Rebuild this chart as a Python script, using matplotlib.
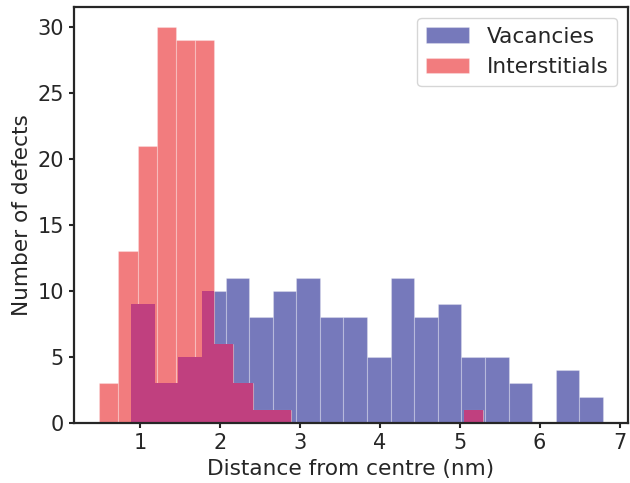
import numpy as np
import matplotlib.pyplot as plt
from matplotlib.path import Path

# histogram bin ranges and counts for each defect type
vacancy_range = (0.889, 6.79)
vacancy_counts = [9, 3, 5, 10, 11, 8, 10, 11, 8, 8, 5, 11, 8, 9, 5, 5, 3, 0, 4, 2]
interstitial_range = (0.487, 5.287)
interstitial_counts = [3, 13, 21, 30, 29, 29, 6, 3, 1, 1, 0, 0, 0, 0, 0, 0, 0, 0, 0, 1]

dark = '#262626'
plt.rcParams.update({
    'font.family': 'DejaVu Sans',
    'text.color': dark,
    'axes.labelcolor': dark,
    'axes.edgecolor': dark,
    'axes.linewidth': 1.6,
    'xtick.color': dark,
    'ytick.color': dark,
    'xtick.major.size': 3.8,
    'ytick.major.size': 3.8,
    'xtick.major.width': 1.5,
    'ytick.major.width': 1.5,
    'xtick.labelsize': 15,
    'ytick.labelsize': 15,
    'axes.labelsize': 15.6,
    'legend.fontsize': 15.6,
})

vac_edges = np.linspace(*vacancy_range, len(vacancy_counts) + 1)
int_edges = np.linspace(*interstitial_range, len(interstitial_counts) + 1)
vac_mid = (vac_edges[:-1] + vac_edges[1:]) / 2
int_mid = (int_edges[:-1] + int_edges[1:]) / 2

fig, ax = plt.subplots(figsize=(6.3, 4.83), dpi=100)
fig.subplots_adjust(left=0.1175, right=0.9968, bottom=0.124, top=0.9855)

_, _, vac_bars = ax.hist(vac_mid, bins=vac_edges, weights=vacancy_counts,
                         color='#7679bb', edgecolor=(1, 1, 1, 0.25), linewidth=0.8,
                         label='Vacancies')
ax.hist(int_mid, bins=int_edges, weights=interstitial_counts,
        color='#f27c7e', edgecolor=(1, 1, 1, 0.25), linewidth=0.8,
        label='Interstitials')

# overlapping part of the two histograms in the blended colour
_, _, mix_bars = ax.hist(int_mid, bins=int_edges, weights=interstitial_counts,
                         color='#c0407f', linewidth=0)
vac_shape = Path.make_compound_path(
    *[b.get_path().transformed(b.get_patch_transform()) for b in vac_bars])
for b in mix_bars:
    b.set_clip_path(vac_shape, ax.transData)

ax.set_xlabel('Distance from centre (nm)')
ax.set_ylabel('Number of defects')
ax.set_yticks([0, 5, 10, 15, 20, 25, 30])
ax.legend(loc='upper right', edgecolor='#cccccc')

fig.savefig('out.png', dpi=100)
